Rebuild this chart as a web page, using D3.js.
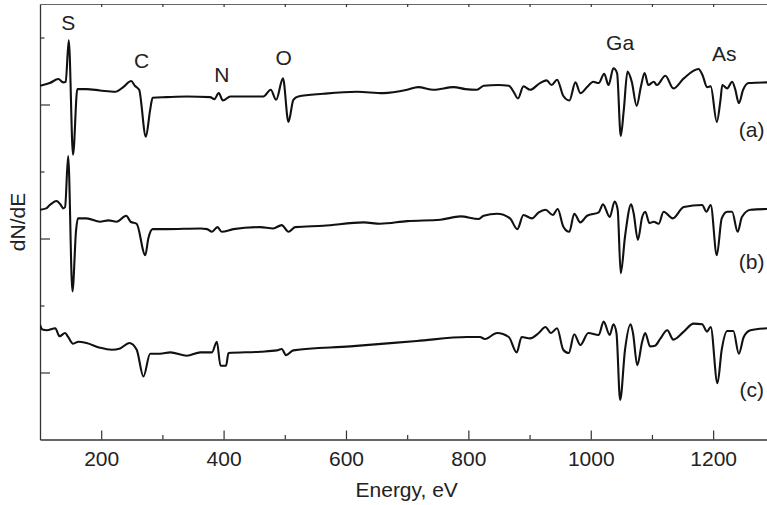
<!DOCTYPE html>
<html>
<head>
<meta charset="utf-8">
<script src="https://cdn.jsdelivr.net/npm/d3@7"></script>
<style>
  body { margin: 0; background: #fff; }
  text { font-family: "Liberation Sans", Arial, Helvetica, sans-serif; fill: #222; }
</style>
</head>
<body>
<div id="chart"></div>
<script>
// Auger spectra, energy (eV) and dN/dE (arbitrary units, offset per trace)
var energyA = [100,116,130,138,142,147,154,161,176,198,223,236,249,255,262,273,280,284,307,340,378,385,392,399,411,427,465,477,486,497,506,514,522,563,618,661,700,718,743,776,795,814,825,849,866,874,881,890,901,917,928,936,945,955,965,975,983,994,1004,1013,1022,1029,1037,1043,1049,1054,1060,1067,1075,1082,1088,1094,1103,1108,1122,1135,1152,1176,1183,1190,1196,1206,1212,1215,1223,1231,1236,1242,1249,1258,1288];
var valuesA = [5.28,5.32,5.38,5.33,5.34,5.96,4.25,5.23,5.23,5.21,5.19,5.26,5.35,5.28,5.22,4.52,4.92,5.10,5.11,5.12,5.11,5.08,5.17,5.06,5.12,5.12,5.12,5.22,5.07,5.39,4.74,5.07,5.12,5.16,5.19,5.17,5.22,5.26,5.22,5.26,5.23,5.22,5.28,5.29,5.28,5.19,5.09,5.27,5.22,5.32,5.36,5.29,5.37,5.13,5.06,5.33,5.17,5.26,5.34,5.32,5.46,5.29,5.54,5.47,4.53,4.92,5.49,5.34,4.98,5.27,5.47,5.29,5.34,5.29,5.43,5.24,5.39,5.53,5.43,5.26,5.27,4.74,5.07,5.29,5.24,5.34,5.23,5.02,5.22,5.32,5.33];

var energyB = [100,110,116,127,134,138,141,146,153,159,162,176,198,212,225,241,248,258,272,277,284,307,362,373,381,390,397,416,460,481,495,506,517,563,629,656,700,754,787,817,825,847,868,880,890,904,915,926,938,946,955,965,973,983,994,1013,1020,1031,1039,1044,1049,1056,1066,1070,1077,1084,1089,1096,1103,1111,1119,1134,1152,1182,1189,1196,1206,1214,1223,1231,1240,1247,1261,1288];
var valuesB = [3.43,3.45,3.50,3.56,3.50,3.45,3.47,4.23,2.21,3.13,3.30,3.30,3.25,3.27,3.25,3.34,3.25,3.22,2.75,3.00,3.14,3.14,3.15,3.14,3.10,3.17,3.10,3.14,3.17,3.15,3.20,3.10,3.17,3.19,3.24,3.22,3.26,3.28,3.33,3.29,3.34,3.37,3.30,3.14,3.35,3.30,3.39,3.43,3.35,3.44,3.18,3.10,3.37,3.24,3.34,3.39,3.51,3.32,3.55,3.43,2.48,3.03,3.51,3.38,2.98,3.32,3.40,3.23,3.25,3.22,3.40,3.30,3.47,3.50,3.40,3.50,2.75,3.30,3.40,3.40,3.10,3.32,3.43,3.44];

var energyC = [100,104,111,125,132,141,146,154,163,176,198,217,231,246,258,269,280,296,313,340,362,381,389,395,404,408,460,487,495,502,514,607,716,798,819,827,847,866,879,887,901,915,926,935,945,955,964,973,983,996,1013,1021,1031,1037,1042,1048,1056,1065,1069,1076,1084,1089,1097,1105,1114,1125,1135,1152,1168,1182,1190,1196,1207,1214,1223,1233,1242,1250,1261,1288];
var valuesC = [1.71,1.64,1.63,1.66,1.54,1.59,1.53,1.43,1.46,1.44,1.37,1.34,1.36,1.44,1.34,0.94,1.28,1.28,1.30,1.25,1.30,1.30,1.46,1.10,1.10,1.29,1.31,1.33,1.35,1.26,1.33,1.39,1.47,1.53,1.53,1.50,1.59,1.53,1.30,1.53,1.51,1.59,1.68,1.59,1.66,1.34,1.29,1.57,1.41,1.59,1.56,1.76,1.56,1.72,1.59,0.59,1.34,1.72,1.59,1.11,1.46,1.59,1.39,1.40,1.51,1.63,1.49,1.61,1.73,1.72,1.61,1.68,0.84,1.34,1.62,1.62,1.28,1.53,1.63,1.66];

var xMajorTicks = [200,400,600,800,1000,1200];
var xMinorTicks = [300,500,700,900,1100];
var yMajorTicks = [1,3,5];
var yMinorTicks = [2,4,6];

var peakNames = ["S","C","N","O","Ga","As"];
var peakEnergies = [146,266,397,498,1048,1218];
var peakLevels = [6.11,5.55,5.34,5.59,5.81,5.65];

var traceNames = ["(a)","(b)","(c)"];
var traceLevels = [4.52,2.55,0.63];

(function() {
	var W = 767, H = 505;
	var mLeft = 40, mTop = 4, mRight = 767, mBottom = 439.5;

	var svg = d3.select("#chart").append("svg")
		.attr("width", W)
		.attr("height", H);

	var x = d3.scaleLinear().domain([100, 1288]).range([mLeft, mRight]);
	var y = d3.scaleLinear().domain([0, 6.5]).range([mBottom, mTop]);

	function styleAxis(g) {
		g.select(".domain").attr("stroke", "#333").attr("stroke-width", 1.3);
		g.selectAll(".tick line").attr("stroke", "#333").attr("stroke-width", 1.2);
		g.selectAll(".tick text").attr("font-size", 21).attr("fill", "#222")
			.attr("font-family", "Liberation Sans, Arial, sans-serif");
	}

	// bottom axis, ticks pointing inwards
	svg.append("g")
		.attr("transform", "translate(0," + mBottom + ")")
		.call(d3.axisBottom(x).tickValues(xMajorTicks).tickSize(-9).tickSizeOuter(0).tickPadding(12).tickFormat(d3.format("d")))
		.call(styleAxis);
	svg.append("g")
		.attr("transform", "translate(0," + mBottom + ")")
		.call(d3.axisBottom(x).tickValues(xMinorTicks).tickSize(-4.5).tickSizeOuter(0).tickFormat(""))
		.call(styleAxis)
		.select(".domain").remove();

	// top frame line
	svg.append("g")
		.attr("transform", "translate(0," + mTop + ")")
		.call(d3.axisTop(x).tickValues(xMajorTicks.concat(xMinorTicks)).tickSize(-3).tickSizeOuter(0).tickFormat(""))
		.call(styleAxis)
		.select(".domain").attr("stroke", "#666").attr("stroke-width", 1);

	// left axis
	svg.append("g")
		.attr("transform", "translate(" + mLeft + ",0)")
		.call(d3.axisLeft(y).tickValues(yMajorTicks).tickSize(-10).tickSizeOuter(0).tickFormat(""))
		.call(styleAxis);
	svg.append("g")
		.attr("transform", "translate(" + mLeft + ",0)")
		.call(d3.axisLeft(y).tickValues(yMinorTicks).tickSize(-4.5).tickSizeOuter(0).tickFormat(""))
		.call(styleAxis)
		.select(".domain").remove();

	var line = d3.line()
		.curve(d3.curveMonotoneX)
		.x(function(d) { return x(d[0]); })
		.y(function(d) { return y(d[1]); });

	var traces = [
		d3.zip(energyA, valuesA),
		d3.zip(energyB, valuesB),
		d3.zip(energyC, valuesC)
	];

	svg.append("clipPath").attr("id", "clip")
		.append("rect").attr("x", mLeft).attr("y", mTop).attr("width", mRight - mLeft).attr("height", mBottom - mTop);

	svg.append("g").attr("clip-path", "url(#clip)")
		.selectAll("path")
		.data(traces)
		.enter()
		.append("path")
		.attr("d", line)
		.attr("fill", "none")
		.attr("stroke", "#111")
		.attr("stroke-width", 2.1)
		.attr("stroke-linejoin", "round");

	svg.selectAll("text.peak")
		.data(peakNames)
		.enter()
		.append("text")
		.attr("class", "peak")
		.attr("x", function(d, i) { return x(peakEnergies[i]); })
		.attr("y", function(d, i) { return y(peakLevels[i]); })
		.attr("text-anchor", "middle")
		.attr("font-size", 21)
		.text(function(d) { return d; });

	svg.selectAll("text.trace")
		.data(traceNames)
		.enter()
		.append("text")
		.attr("class", "trace")
		.attr("x", x(1263))
		.attr("y", function(d, i) { return y(traceLevels[i]); })
		.attr("text-anchor", "middle")
		.attr("font-size", 21)
		.text(function(d) { return d; });

	svg.append("text")
		.attr("x", 406.7)
		.attr("y", 497)
		.attr("text-anchor", "middle")
		.attr("font-size", 21)
		.text("Energy, eV");

	svg.append("text")
		.attr("transform", "translate(25,222) rotate(-90)")
		.attr("text-anchor", "middle")
		.attr("font-size", 21)
		.text("dN/dE");
})();
</script>
</body>
</html>
